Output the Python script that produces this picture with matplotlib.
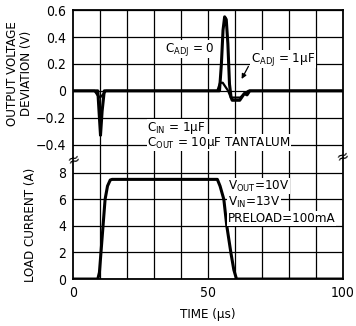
import matplotlib
matplotlib.use('Agg')
import matplotlib.pyplot as plt

plt.rcParams['font.family'] = ['DejaVu Sans']
plt.rcParams['font.stretch'] = 'condensed'
plt.rcParams['mathtext.fontset'] = 'custom'
plt.rcParams['mathtext.rm'] = 'DejaVu Sans:stretch=condensed'

# output voltage deviation, C_ADJ = 0
t_cadj0 = [0, 9.2, 9.8, 10.2, 10.8, 11.6, 54.3, 55.0, 55.6, 56.2, 56.8, 57.4, 58.0, 58.6, 59.0, 61.8, 63.5, 64.5, 65.5, 100]
v_cadj0 = [0, 0, -0.2, -0.33, -0.15, 0, 0, 0.2, 0.45, 0.55, 0.53, 0.35, 0.05, -0.05, -0.07, -0.07, -0.02, -0.03, 0, 0]
# output voltage deviation, C_ADJ = 1uF
t_cadj1 = [0, 8.0, 9.0, 10.0, 11.0, 12.2, 53.5, 54.5, 55.5, 56.5, 57.5, 58.5, 62, 63.5, 65, 100]
v_cadj1 = [0, 0, -0.03, -0.05, -0.03, 0, 0, 0.06, 0.06, 0.03, 0, -0.05, -0.05, -0.02, 0, 0]
# load current
t_load = [0, 9.2, 9.8, 11.9, 12.8, 13.8, 14.5, 53.5, 54.5, 55.9, 57, 58.5, 59.6, 60.6, 100]
i_load = [0, 0, 0.5, 6.0, 7.0, 7.45, 7.5, 7.5, 7.0, 6.0, 4.0, 2.0, 0.7, 0, 0]

v_ticks = [-0.4, -0.2, 0, 0.2, 0.4, 0.6]
v_labels = ['\u22120.4', '\u22120.2', '0', '0.2', '0.4', '0.6']
i_ticks = [0, 2, 4, 6, 8]
t_ticks = [0, 50, 100]

fig = plt.figure(figsize=(3.56, 3.26), dpi=100)
ax1 = fig.add_axes([0.205, 0.515, 0.758, 0.454])
ax2 = fig.add_axes([0.205, 0.144, 0.758, 0.371])

for ax in (ax1, ax2):
  ax.set_xlim(0, 100)
  for x in range(10, 100, 10):
    ax.axvline(x, color='black', lw=0.9, zorder=1)
  ax.tick_params(length=0, labelsize=10, pad=5)
  for s in ax.spines.values():
    s.set_linewidth(1.3)

ax1.spines['bottom'].set_visible(False)
ax2.spines['top'].set_visible(False)

ax1.set_ylim(-0.5, 0.6)
ax1.set_yticks(v_ticks)
ax1.set_yticklabels(v_labels)
ax1.set_xticks([])
for y in v_ticks:
  ax1.axhline(y, color='black', lw=0.9, zorder=1)
ax1.plot(t_cadj1, v_cadj1, color='black', lw=1.6, zorder=3)
ax1.plot(t_cadj0, v_cadj0, color='black', lw=2.2, zorder=3)
ax1.set_ylabel('OUTPUT VOLTAGE\nDEVIATION (V)', fontsize=9.5, linespacing=1.05)
ax1.yaxis.set_label_coords(-0.15, 0.57)

tb = dict(facecolor='white', edgecolor='none', pad=0.5)
ax1.text(34, 0.31, 'C$_{\\mathrm{ADJ}}$ = 0', fontsize=9.5, va='center', bbox=tb, zorder=4)
ax1.text(66, 0.235, 'C$_{\\mathrm{ADJ}}$ = 1\u00b5F', fontsize=9.5, va='center', bbox=tb, zorder=4)
ax1.annotate('', xy=(62, 0.07), xytext=(65.5, 0.2),
             arrowprops=dict(arrowstyle='-|>', color='black', lw=0.9, mutation_scale=7), zorder=4)
ax1.text(27.5, -0.275, 'C$_{\\mathrm{IN}}$ = 1\u00b5F', fontsize=9.5, va='center', bbox=tb, zorder=4)
ax1.text(27.5, -0.385, 'C$_{\\mathrm{OUT}}$ = 10\u00b5F TANTALUM', fontsize=9.5, va='center', bbox=tb, zorder=4)

ax2.set_ylim(0, 9.1)
ax2.set_yticks(i_ticks)
ax2.set_xticks(t_ticks)
for y in i_ticks:
  ax2.axhline(y, color='black', lw=0.9, zorder=1)
ax2.plot(t_load, i_load, color='black', lw=2.2, zorder=3)
ax2.set_ylabel('LOAD CURRENT (A)', fontsize=9.5)
ax2.yaxis.set_label_coords(-0.135, 0.45)
ax2.set_xlabel('TIME (\u00b5s)', fontsize=9.5, labelpad=6)
ax2.text(57.5, 7.0, 'V$_{\\mathrm{OUT}}$=10V', fontsize=9.5, va='center', bbox=tb, zorder=4)
ax2.text(57.5, 5.75, 'V$_{\\mathrm{IN}}$=13V', fontsize=9.5, va='center', bbox=tb, zorder=4)
ax2.text(57.5, 4.55, 'PRELOAD=100mA', fontsize=9.5, va='center', bbox=tb, zorder=4)

fig.text(0.205, 0.51, '\u2248', fontsize=11, ha='center', va='center', rotation=20, stretch='normal')
fig.text(0.963, 0.52, '\u2248', fontsize=11, ha='center', va='center', rotation=20, stretch='normal')

fig.savefig('out.png', dpi=100)
